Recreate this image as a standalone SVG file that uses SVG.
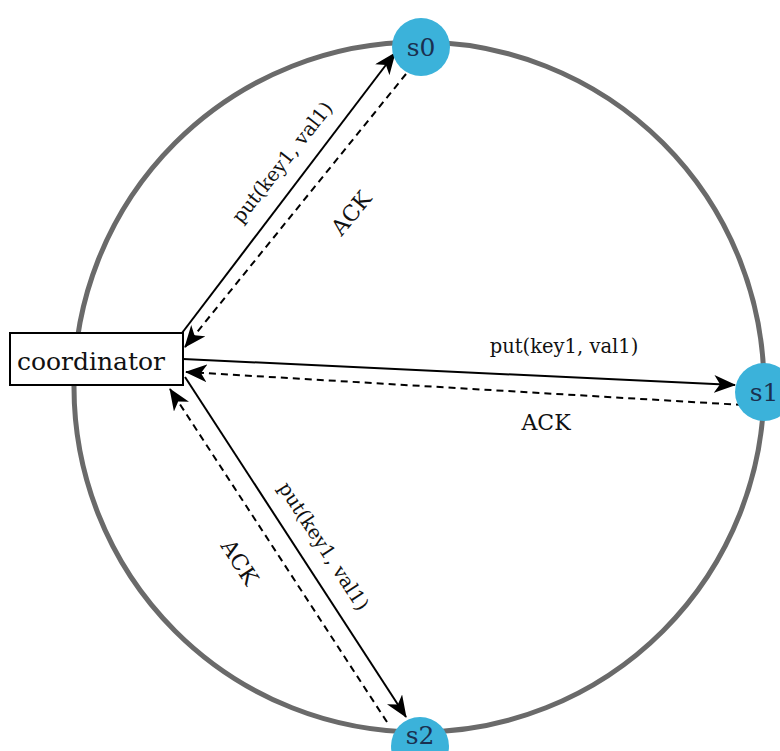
<svg xmlns="http://www.w3.org/2000/svg" width="780" height="751" viewBox="0 0 780 751">
<style>
.ring{fill:none;stroke:#6a6a6a;stroke-width:5}
.node{fill:#3bb2da}
.nt{font-family:"DejaVu Serif","Liberation Serif",serif;font-size:25px;fill:#1a3050;text-anchor:middle}
.box{fill:#fff;stroke:#000;stroke-width:2}
.bt{font-family:"DejaVu Serif","Liberation Serif",serif;font-size:25px;fill:#111;text-anchor:middle}
.lbl{font-family:"DejaVu Serif","Liberation Serif",serif;font-size:19.5px;fill:#111;text-anchor:middle}
.ack{font-family:"DejaVu Serif","Liberation Serif",serif;font-size:22px;fill:#111;text-anchor:middle}
.solid{fill:none;stroke:#000;stroke-width:2;marker-end:url(#ah)}
.dash{fill:none;stroke:#000;stroke-width:2;stroke-dasharray:7 5;marker-end:url(#ah)}
</style>
<defs>
<marker id="ah" viewBox="0 0 22 18" refX="21" refY="9" markerWidth="22" markerHeight="18" orient="auto" markerUnits="userSpaceOnUse">
<path d="M0,0 L22,9 L0,18 L6,9 z" fill="#000"/>
</marker>
</defs>
<rect width="780" height="751" fill="#fff"/>
<circle class="ring" cx="419" cy="387" r="345"/>
<g id="connectors">
<line class="solid" x1="182" y1="333" x2="395" y2="53"/>
<line class="dash" x1="406" y1="74" x2="185" y2="347"/>
<line class="solid" x1="183" y1="359" x2="735" y2="385"/>
<line class="dash" x1="743" y1="405" x2="186" y2="372"/>
<line class="solid" x1="185" y1="377" x2="406" y2="717"/>
<line class="dash" x1="387" y1="722" x2="170" y2="389"/>
<text class="lbl" transform="translate(282,162) rotate(-51.5)" y="7">put(key1, val1)</text>
<text class="ack" transform="translate(351,213) rotate(-50.5)" y="8">ACK</text>
<text class="lbl" x="564" y="353">put(key1, val1)</text>
<text class="ack" x="546" y="430">ACK</text>
<text class="lbl" transform="translate(324,546) rotate(57)" y="7">put(key1, val1)</text>
<text class="ack" transform="translate(240,562) rotate(57)" y="8">ACK</text>
</g>
<g id="coordinator">
<rect class="box" x="10" y="333" width="173" height="52"/>
<text class="bt" x="91" y="370">coordinator</text>
</g>
<g id="s0">
<circle class="node" cx="421" cy="47" r="29"/>
<text class="nt" x="421" y="56">s0</text>
</g>
<g id="s1">
<circle class="node" cx="764" cy="392" r="29"/>
<text class="nt" x="764" y="401">s1</text>
</g>
<g id="s2">
<circle class="node" cx="420" cy="746" r="29"/>
<text class="nt" x="420" y="744">s2</text>
</g>
</svg>
